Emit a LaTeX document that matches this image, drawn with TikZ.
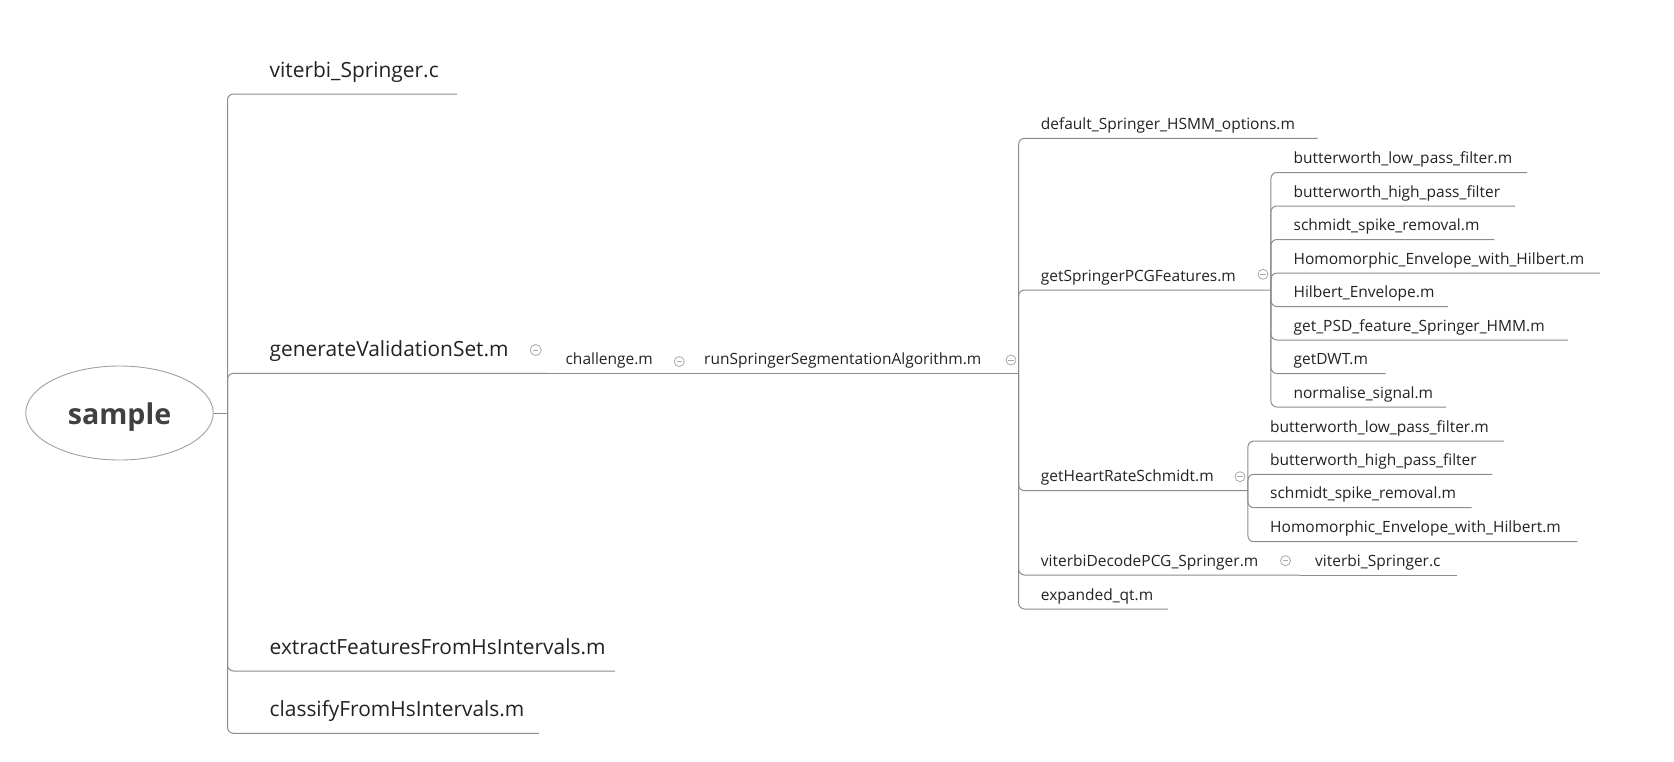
\documentclass[tikz,border=0pt]{standalone}
\usepackage{fontspec}
\setmainfont{Open Sans}
\usetikzlibrary{shapes.geometric}
\definecolor{lin}{HTML}{8C8C8C}
\definecolor{txt}{HTML}{222222}
\definecolor{roottxt}{HTML}{404040}
\definecolor{ellc}{HTML}{A0A0A0}
\definecolor{foldc}{HTML}{A8A8A8}
\tikzset{
  conn/.style={draw=lin, line width=1pt, rounded corners=6pt},
  lone/.style={anchor=base west, inner sep=0pt, font=\fontsize{20.9}{24}\selectfont, text=txt},
  ltwo/.style={anchor=base west, inner sep=0pt, font=\fontsize{15.5}{18}\selectfont, text=txt},
  fold/.style={circle, draw=foldc, line width=0.8pt, minimum size=10pt, inner sep=0pt,
    path picture={\draw[foldc, line width=0.8pt] ([xshift=-2.6pt]path picture bounding box.center) -- ([xshift=2.6pt]path picture bounding box.center);}},
}
\begin{document}
\begin{tikzpicture}[x=1pt,y=-1pt]
\useasboundingbox (0,0) rectangle (1674,761);
% root
\node[draw=ellc, line width=0.9pt, ellipse, minimum width=187.5pt, minimum height=94pt, inner sep=0pt,
  font=\fontsize{28.6}{32}\selectfont\bfseries, text=roottxt] (root) at (119.5,413) {\raisebox{-4pt}[\height][\depth]{sample}};
\coordinate (rj) at (227.5,413);
% level 1 end points
\coordinate (a1e) at (457,94);
\coordinate (a2e) at (548,373.3);
\coordinate (a3e) at (615,671);
\coordinate (a4e) at (538.8,733.3);
% level 2/3
\coordinate (che) at (692,373.3);
\coordinate (rne) at (1018.6,373.3);
% run children
\coordinate (b1e) at (1317.5,138.3);
\coordinate (b2e) at (1270.9,290);
\coordinate (b3e) at (1247.9,490.7);
\coordinate (b4e) at (1300,575);
\coordinate (b5e) at (1168,609);
\coordinate (e1e) at (1456.7,575);
% getSpringerPCGFeatures children
\coordinate (c1e) at (1527,172.5);
\coordinate (c2e) at (1515.2,206);
\coordinate (c3e) at (1494.3,239.5);
\coordinate (c4e) at (1600.2,273);
\coordinate (c5e) at (1448,306.5);
\coordinate (c6e) at (1567.8,340);
\coordinate (c7e) at (1385.5,373.5);
\coordinate (c8e) at (1446,407);
% getHeartRateSchmidt children
\coordinate (d1e) at (1504,441);
\coordinate (d2e) at (1492.3,474.3);
\coordinate (d3e) at (1471.7,507.7);
\coordinate (d4e) at (1577.3,541.7);

% connectors
\draw[conn] (root.east) -- (rj);
\foreach \t in {a1e,a2e,a3e,a4e} \draw[conn] (rj) |- (\t);
\draw[conn] (a2e) -- (che);
\draw[conn] (che) -- (rne);
\foreach \t in {b1e,b2e,b3e,b4e,b5e} \draw[conn] (rne) |- (\t);
\draw[conn] (b4e) -- (e1e);
\foreach \t in {c1e,c2e,c3e,c4e,c5e,c6e,c7e,c8e} \draw[conn] (b2e) |- (\t);
\foreach \t in {d1e,d2e,d3e,d4e} \draw[conn] (b3e) |- (\t);

% level 1 texts
\node[lone] (a1) at (269.5,77) {viterbi\_Springer.c};
\node[lone] (a2) at (269.5,356.3) {generateValidationSet.m};
\node[lone] (a3) at (269.5,654) {extractFeaturesFromHsIntervals.m};
\node[lone] (a4) at (269.5,716.3) {classifyFromHsIntervals.m};
% level 2/3
\node[ltwo] (ch) at (565.4,364.3) {challenge.m};
\node[ltwo] (rn) at (704,364.3) {runSpringerSegmentationAlgorithm.m};
% run children
\node[ltwo] (b1) at (1040.7,129.3) {default\_Springer\_HSMM\_options.m};
\node[ltwo] (b2) at (1040.7,281) {getSpringerPCGFeatures.m};
\node[ltwo] (b3) at (1040.7,481.7) {getHeartRateSchmidt.m};
\node[ltwo] (b4) at (1040.7,566) {viterbiDecodePCG\_Springer.m};
\node[ltwo] (b5) at (1040.7,600) {expanded\_qt.m};
\node[ltwo] (e1) at (1315,566) {viterbi\_Springer.c};
% c
\node[ltwo] (c1) at (1293.4,163.5) {butterworth\_low\_pass\_filter.m};
\node[ltwo] (c2) at (1293.4,197) {butterworth\_high\_pass\_filter};
\node[ltwo] (c3) at (1293.4,230.5) {schmidt\_spike\_removal.m};
\node[ltwo] (c4) at (1293.4,264) {Homomorphic\_Envelope\_with\_Hilbert.m};
\node[ltwo] (c5) at (1293.4,297.5) {Hilbert\_Envelope.m};
\node[ltwo] (c6) at (1293.4,331) {get\_PSD\_feature\_Springer\_HMM.m};
\node[ltwo] (c7) at (1293.4,364.5) {getDWT.m};
\node[ltwo] (c8) at (1293.4,398) {normalise\_signal.m};
% d
\node[ltwo] (d1) at (1270,432) {butterworth\_low\_pass\_filter.m};
\node[ltwo] (d2) at (1270,465.3) {butterworth\_high\_pass\_filter};
\node[ltwo] (d3) at (1270,498.7) {schmidt\_spike\_removal.m};
\node[ltwo] (d4) at (1270,532.7) {Homomorphic\_Envelope\_with\_Hilbert.m};

% fold icons
\node[fold, minimum size=11pt] (f1) at (535.7,350) {};
\node[fold] (f2) at (679.2,361.5) {};
\node[fold] (f3) at (1011,360) {};
\node[fold] (f4) at (1263,274.3) {};
\node[fold] (f5) at (1240,476.7) {};
\node[fold] (f6) at (1285.5,560.7) {};
\end{tikzpicture}
\end{document}
